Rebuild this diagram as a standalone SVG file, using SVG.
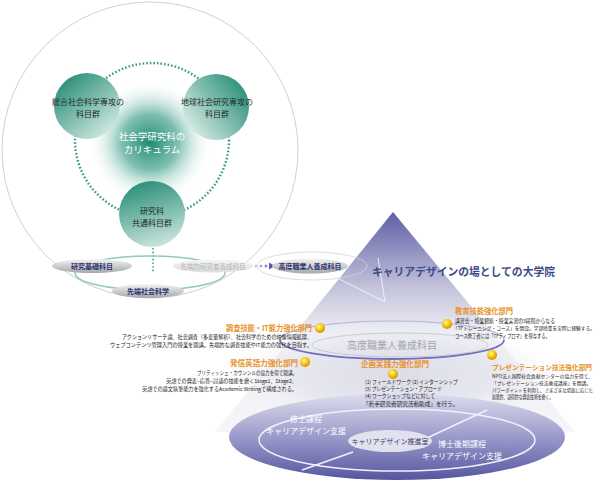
<svg xmlns="http://www.w3.org/2000/svg" width="600" height="484" viewBox="0 0 600 484">
<defs>
<style>
text{font-family:"Noto Sans CJK JP","Noto Sans",sans-serif;}
.ct{font-size:8px;fill:#1e2a2a;text-anchor:middle;}
.pill{font-size:7px;font-weight:bold;fill:#2a3570;text-anchor:middle;}
.hd{font-size:7.5px;font-weight:bold;fill:#e8922c;}
.bd{font-size:5.4px;fill:#222;}
.fl{font-size:8px;fill:#fff;text-anchor:middle;}
</style>
<radialGradient id="glow" cx="0.5" cy="0.5" r="0.5">
<stop offset="0" stop-color="#1f8a74"/>
<stop offset="0.45" stop-color="#5cae9c" stop-opacity="0.8"/>
<stop offset="1" stop-color="#ffffff" stop-opacity="0"/>
</radialGradient>
<linearGradient id="cL" x1="0.15" y1="0.1" x2="0.85" y2="0.95">
<stop offset="0" stop-color="#2c907a"/>
<stop offset="1" stop-color="#d6ebe4"/>
</linearGradient>
<linearGradient id="cR" x1="0.95" y1="0.2" x2="0.1" y2="0.85">
<stop offset="0" stop-color="#2c907a"/>
<stop offset="1" stop-color="#d6ebe4"/>
</linearGradient>
<linearGradient id="cB" x1="0.4" y1="0" x2="0.7" y2="1">
<stop offset="0" stop-color="#2c907a"/>
<stop offset="1" stop-color="#cfe7df"/>
</linearGradient>
<linearGradient id="pillG" x1="0" y1="0" x2="0" y2="1">
<stop offset="0" stop-color="#f4f4f4"/>
<stop offset="1" stop-color="#a8a8ac"/>
</linearGradient>
<linearGradient id="pillL" x1="0" y1="0" x2="0" y2="1">
<stop offset="0" stop-color="#f6f6f6"/>
<stop offset="1" stop-color="#dcdcdc"/>
</linearGradient>
<linearGradient id="pyr" x1="0" y1="212" x2="0" y2="430" gradientUnits="userSpaceOnUse">
<stop offset="0" stop-color="#5e5ea6"/>
<stop offset="0.35" stop-color="#c4c4dc"/>
<stop offset="0.55" stop-color="#ededf3"/>
<stop offset="1" stop-color="#f6f6f9"/>
</linearGradient>
<radialGradient id="haze" cx="0.5" cy="0.55" r="0.5">
<stop offset="0" stop-color="#dcdce8"/>
<stop offset="0.6" stop-color="#e4e4ee" stop-opacity="0.8"/>
<stop offset="1" stop-color="#f4f4f8" stop-opacity="0"/>
</radialGradient>
<linearGradient id="floor" x1="0" y1="0" x2="0" y2="1">
<stop offset="0" stop-color="#dcdcec"/>
<stop offset="0.5" stop-color="#9a9acb"/>
<stop offset="1" stop-color="#5656a0"/>
</linearGradient>
<radialGradient id="ball" cx="0.4" cy="0.35" r="0.6">
<stop offset="0" stop-color="#fff6a0"/>
<stop offset="0.5" stop-color="#f8d020"/>
<stop offset="1" stop-color="#d89a00"/>
</radialGradient>
</defs>

<g id="outer-circle">
<circle cx="150" cy="150" r="148" fill="none" stroke="#d0d0d0" stroke-width="1"/>
</g>

<g id="pyramid">
<polygon points="393,212 215,432 575,432" fill="url(#pyr)"/>
<ellipse cx="395" cy="370" rx="165" ry="55" fill="url(#haze)"/>
<polyline points="325,272 385,302 378,258" fill="none" stroke="#f4f4fa" stroke-width="1" opacity="0.9"/>
</g>

<g id="orbit">
<path d="M280,340 A112,19 0 0 1 504,340" fill="none" stroke="#b4b4d8" stroke-width="1.2"/>
<path d="M280,340 A112,19 0 0 0 504,340" fill="none" stroke="#6e6eba" stroke-width="1.8"/>
<ellipse cx="400" cy="345" rx="88" ry="12" fill="none" stroke="#c0c0cc" stroke-width="0.8"/>
<text x="392" y="349" style="font-size:10px;fill:#a4a4ae;text-anchor:middle;">高度職業人養成科目</text>
</g>

<g id="floor-base">
<ellipse cx="397" cy="437" rx="168" ry="43" fill="url(#floor)"/>
<ellipse cx="397" cy="440" rx="138" ry="31" fill="none" stroke="#f0f0fa" stroke-width="1.5"/>
<line x1="302" y1="470" x2="353" y2="452" stroke="#f0f0fa" stroke-width="1.5"/>
<line x1="427" y1="438" x2="487" y2="410" stroke="#f0f0fa" stroke-width="1.5"/>
<text class="fl" x="306" y="422">修士課程</text>
<text class="fl" x="306" y="434">キャリアデザイン支援</text>
<text class="fl" x="462" y="447">博士後期課程</text>
<text class="fl" x="462" y="459">キャリアデザイン支援</text>
</g>

<g id="node-suishin">
<ellipse cx="390" cy="441" rx="42" ry="11" fill="#e2e2ee"/>
<text x="390" y="444" style="font-size:7px;fill:#3a3a70;text-anchor:middle;">キャリアデザイン推進室</text>
</g>

<g id="connectors">
<circle cx="152" cy="140" r="77" fill="none" stroke="#3a9a85" stroke-width="2.4" stroke-dasharray="1.6 2"/>
<line x1="153" y1="248" x2="153" y2="272" stroke="#6cb8a6" stroke-width="2" stroke-dasharray="1.6 2"/>
<ellipse cx="150" cy="273" rx="75" ry="17" fill="none" stroke="#8fcabb" stroke-width="1.5"/>
<ellipse cx="312" cy="266" rx="55" ry="14" fill="none" stroke="#d4d4d8" stroke-width="0.8"/>
<circle cx="256" cy="266" r="1.5" fill="#c6c6e4"/>
<circle cx="261" cy="266" r="1.5" fill="#a8a8d8"/>
<circle cx="266" cy="266" r="1.5" fill="#8888c8"/>
<polygon points="269,262.5 275,266 269,269.5" fill="#5a5aa8"/>
</g>

<g id="center-glow">
<circle cx="150" cy="142" r="62" fill="url(#glow)"/>
<text x="152" y="140" style="font-size:9.5px;fill:#fff;text-anchor:middle;">社会学研究科の</text>
<text x="152" y="153" style="font-size:9.5px;fill:#fff;text-anchor:middle;">カリキュラム</text>
</g>

<g id="node-sougou">
<circle cx="87" cy="106" r="33" fill="url(#cL)"/>
<text class="ct" x="88" y="105">総合社会科学専攻の</text>
<text class="ct" x="88" y="117">科目群</text>
</g>
<g id="node-chikyu">
<circle cx="216" cy="107" r="33" fill="url(#cR)"/>
<text class="ct" x="217" y="105">地球社会研究専攻の</text>
<text class="ct" x="217" y="117">科目群</text>
</g>
<g id="node-kyotsu">
<circle cx="152" cy="214" r="33" fill="url(#cB)"/>
<text class="ct" x="152" y="214">研究科</text>
<text class="ct" x="152" y="226">共通科目群</text>
</g>

<g id="pill-kiso">
<ellipse cx="92" cy="266" rx="40" ry="7" fill="url(#pillG)"/>
<text class="pill" x="92" y="268.5">研究基礎科目</text>
</g>
<g id="pill-sentan">
<ellipse cx="148" cy="291" rx="36" ry="7" fill="url(#pillG)"/>
<text class="pill" x="148" y="293.5">先端社会科学</text>
</g>
<g id="pill-kenkyusha">
<ellipse cx="213" cy="266" rx="40" ry="6.5" fill="url(#pillL)"/>
<text x="213" y="268.5" style="font-size:6.5px;fill:#b4b4b8;text-anchor:middle;">先端的研究者養成科目</text>
</g>
<g id="pill-koudo">
<ellipse cx="310" cy="266" rx="38" ry="7.5" fill="url(#pillG)"/>
<text class="pill" x="310" y="268.5">高度職業人養成科目</text>
</g>

<g id="title">
<text x="372" y="276" textLength="183" lengthAdjust="spacingAndGlyphs" style="font-size:11px;font-weight:bold;fill:#3b4a8c;">キャリアデザインの場としての大学院</text>
</g>

<g id="dept-chousa">
<circle cx="320" cy="328" r="5" fill="url(#ball)"/>
<text class="hd" x="226" y="331" textLength="86" lengthAdjust="spacingAndGlyphs">調査技能・IT能力強化部門</text>
<text class="bd" x="122" y="339" textLength="190" lengthAdjust="spacingAndGlyphs">アクションリサーチ論、社会調査（多変量解析）、社会科学のための映像情報処理、</text>
<text class="bd" x="110" y="347" textLength="202" lengthAdjust="spacingAndGlyphs">ウェブコンテンツ管理入門の授業を開講。先端的な調査技能やIT能力の強化を目指す。</text>
</g>

<g id="dept-eigo">
<circle cx="305" cy="362" r="5" fill="url(#ball)"/>
<text class="hd" x="230" y="366" textLength="68" lengthAdjust="spacingAndGlyphs">発信英語力強化部門</text>
<text class="bd" x="197" y="375" textLength="100" lengthAdjust="spacingAndGlyphs">ブリティッシュ・カウンシルの協力を得て開講。</text>
<text class="bd" x="166" y="383" textLength="131" lengthAdjust="spacingAndGlyphs">英語での発表−応答−討議の技能を磨くStage1、Stage2、</text>
<text class="bd" x="142" y="391" textLength="155" lengthAdjust="spacingAndGlyphs">英語での論文執筆能力を強化するAcademic Writingで構成される。</text>
</g>

<g id="dept-kyouiku">
<circle cx="447" cy="324" r="5" fill="url(#ball)"/>
<text class="hd" x="455" y="314" textLength="58" lengthAdjust="spacingAndGlyphs">教育技能強化部門</text>
<text class="bd" x="455" y="323" textLength="100" lengthAdjust="spacingAndGlyphs">講習会・授業観察・授業実習の3段階からなる</text>
<text class="bd" x="453" y="330" textLength="142" lengthAdjust="spacingAndGlyphs" style="font-size:4.85px;">「TFトレーニング・コース」を開設。学部授業を実際に経験する。</text>
<text class="bd" x="455" y="338" textLength="95" lengthAdjust="spacingAndGlyphs">コース修了者には「TFディプロマ」を授与する。</text>
</g>

<g id="dept-presen">
<circle cx="492" cy="355" r="5" fill="url(#ball)"/>
<text class="hd" x="492" y="370" textLength="100" lengthAdjust="spacingAndGlyphs" style="font-size:6.7px;">プレゼンテーション技法強化部門</text>
<text class="bd" x="492" y="378" textLength="101" lengthAdjust="spacingAndGlyphs" style="font-size:4.6px;">NPO法人国際社会貢献センターの協力を得て、</text>
<text class="bd" x="492" y="385" textLength="99" lengthAdjust="spacingAndGlyphs" style="font-size:4.7px;">「プレゼンテーション技法養成講座」を開講。</text>
<text class="bd" x="492" y="392" textLength="101" lengthAdjust="spacingAndGlyphs" style="font-size:4.4px;">パワーポイントを利用し、さまざまな場面に応じた</text>
<text class="bd" x="492" y="399" textLength="61" lengthAdjust="spacingAndGlyphs">効果的、説得的な発表技術を磨く。</text>
</g>

<g id="dept-kikaku">
<circle cx="393" cy="374" r="5" fill="url(#ball)"/>
<text class="hd" x="361" y="367" textLength="68" lengthAdjust="spacingAndGlyphs">企画実践力強化部門</text>
<text class="bd" x="365" y="384" textLength="93" lengthAdjust="spacingAndGlyphs">(1) フィールドワーク (2) インターンシップ</text>
<text class="bd" x="365" y="391" textLength="77" lengthAdjust="spacingAndGlyphs">(3) プレゼンテーション・アプロード</text>
<text class="bd" x="365" y="398" textLength="70" lengthAdjust="spacingAndGlyphs">(4) ワークショップなどに対して</text>
<text class="bd" x="363" y="406" textLength="95" lengthAdjust="spacingAndGlyphs">「若手研究者研究活動助成」を行う。</text>
</g>
</svg>
